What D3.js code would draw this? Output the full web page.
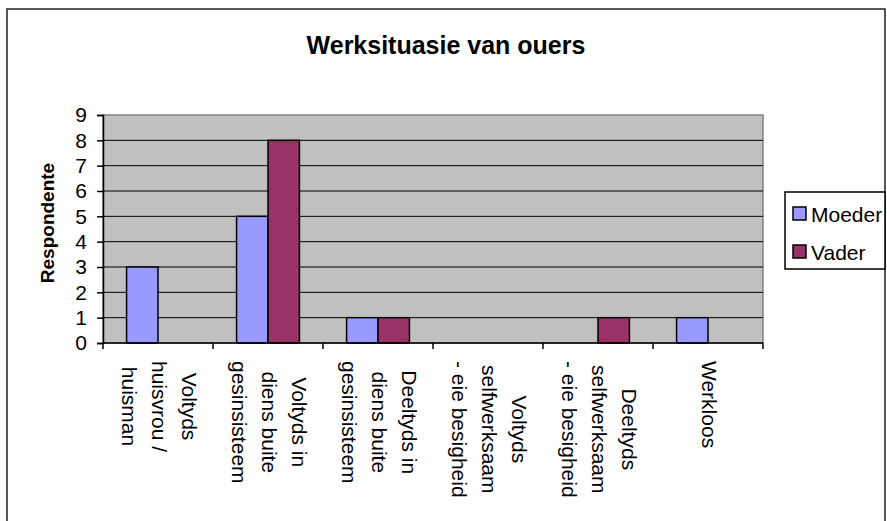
<!DOCTYPE html>
<html>
<head>
<meta charset="utf-8">
<script src="https://cdn.jsdelivr.net/npm/d3@7"></script>
<style>
  body { margin: 0; background: #fff; }
  svg { display: block; font-family: "Liberation Sans", Arial, sans-serif; }
</style>
</head>
<body>
<div id="chart"></div>
<script>
// data
var categories = [
  ["Voltyds", "huisvrou /", "huisman"],
  ["Voltyds in", "diens buite", "gesinsisteem"],
  ["Deeltyds in", "diens buite", "gesinsisteem"],
  ["Voltyds", "selfwerksaam", "- eie besigheid"],
  ["Deeltyds", "selfwerksaam", "- eie besigheid"],
  ["Werkloos"]
];
var seriesNames = ["Moeder", "Vader"];
var moeder = [3, 5, 1, 0, 0, 1];
var vader = [0, 8, 1, 0, 1, 0];
var yTicks = [0, 1, 2, 3, 4, 5, 6, 7, 8, 9];
var colors = ["#9999ff", "#993366"];

var width = 887, height = 521;
var plot = {left: 103, right: 763, top: 115, bottom: 343};

var svg = d3.select("#chart").append("svg")
    .attr("width", width)
    .attr("height", height);

// outer chart border
svg.append("rect")
    .attr("x", 7).attr("y", 9)
    .attr("width", 878).attr("height", 530)
    .attr("fill", "#fff")
    .attr("stroke", "#222")
    .attr("stroke-width", 1.5);

svg.append("text")
    .attr("x", 446).attr("y", 54)
    .attr("text-anchor", "middle")
    .style("font-size", "25px")
    .style("font-weight", "bold")
    .text("Werksituasie van ouers");

var idx = categories.map(function(d, i) { return i; });

var x = d3.scaleBand().domain(idx).range([plot.left, plot.right]);
var x1 = d3.scaleBand().domain(seriesNames).range([0, x.bandwidth()]).paddingOuter(0.75);
var y = d3.scaleLinear().domain([0, 9]).range([plot.bottom, plot.top]);

// plot background
svg.append("rect")
    .attr("x", plot.left).attr("y", plot.top)
    .attr("width", plot.right - plot.left)
    .attr("height", plot.bottom - plot.top)
    .attr("fill", "#c0c0c0")
    .attr("stroke", "#808080")
    .attr("stroke-width", 1.5);

// gridlines
svg.append("g").selectAll("line")
    .data(yTicks.slice(1, 9))
    .enter().append("line")
    .attr("x1", plot.left).attr("x2", plot.right)
    .attr("y1", function(d) { return y(d); })
    .attr("y2", function(d) { return y(d); })
    .attr("stroke", "#000")
    .attr("stroke-width", 1);

// bars
var rows = idx.map(function(i) {
  return [{s: 0, v: moeder[i]}, {s: 1, v: vader[i]}];
});
svg.append("g").selectAll("g")
    .data(rows)
    .enter().append("g")
    .attr("transform", function(d, i) { return "translate(" + x(i) + ",0)"; })
  .selectAll("rect")
    .data(function(d) { return d.filter(function(b) { return b.v > 0; }); })
    .enter().append("rect")
    .attr("x", function(d) { return x1(seriesNames[d.s]); })
    .attr("width", x1.bandwidth())
    .attr("y", function(d) { return y(d.v); })
    .attr("height", function(d) { return y(0) - y(d.v); })
    .attr("fill", function(d) { return colors[d.s]; })
    .attr("stroke", "#000")
    .attr("stroke-width", 1.5);

// y axis
var yAxis = svg.append("g")
    .attr("transform", "translate(" + plot.left + ",0)")
    .call(d3.axisLeft(y).tickValues(yTicks).tickSize(6).tickPadding(10).tickFormat(d3.format("d")));
yAxis.select(".domain").attr("stroke", "#000").attr("stroke-width", 1.5);
yAxis.selectAll(".tick line").attr("stroke", "#000").attr("stroke-width", 1.5);
yAxis.selectAll(".tick text")
    .style("font-size", "21px")
    .style("font-family", "'Liberation Sans', Arial, sans-serif")
    .attr("fill", "#000");

// x axis line and ticks at category boundaries
var bounds = idx.map(function(i) { return x(i); }).concat([plot.right]);
svg.append("line")
    .attr("x1", plot.left).attr("x2", plot.right)
    .attr("y1", plot.bottom).attr("y2", plot.bottom)
    .attr("stroke", "#000").attr("stroke-width", 1.5);
svg.append("g").selectAll("line")
    .data(bounds)
    .enter().append("line")
    .attr("x1", function(d) { return d; }).attr("x2", function(d) { return d; })
    .attr("y1", plot.bottom).attr("y2", plot.bottom + 6)
    .attr("stroke", "#000").attr("stroke-width", 1.5);

// x labels, rotated 90deg, multi-line
var lh = 30;
var labelG = svg.append("g").selectAll("g")
    .data(categories)
    .enter().append("g");
labelG.each(function(lines, i) {
  var g = d3.select(this);
  var cx = x(i) + x.bandwidth() / 2 + 1;
  var ts = g.selectAll("text").data(lines).enter().append("text")
      .style("font-size", "21px")
      .attr("text-anchor", "middle")
      .attr("dominant-baseline", "central")
      .text(function(d) { return d; });
  var maxLen = d3.max(ts.nodes(), function(n) { return n.getComputedTextLength(); });
  ts.attr("x", maxLen / 2)
    .attr("y", function(d, j) { return (j - (lines.length - 1) / 2) * lh; });
  g.attr("transform", "translate(" + cx + ",361) rotate(90)");
});

// y axis title
svg.append("text")
    .attr("transform", "translate(47,223) rotate(-90)")
    .attr("text-anchor", "middle")
    .attr("dominant-baseline", "central")
    .style("font-size", "19px")
    .style("font-weight", "bold")
    .text("Respondente");

// legend
var legend = svg.append("g");
legend.append("rect")
    .attr("x", 785).attr("y", 192)
    .attr("width", 100).attr("height", 77)
    .attr("fill", "#fff")
    .attr("stroke", "#000")
    .attr("stroke-width", 1.5);
var item = legend.selectAll("g.item")
    .data(seriesNames)
    .enter().append("g")
    .attr("class", "item")
    .attr("transform", function(d, i) { return "translate(793," + (207 + i * 38) + ")"; });
item.append("rect")
    .attr("width", 13).attr("height", 13)
    .attr("fill", function(d, i) { return colors[i]; })
    .attr("stroke", "#000")
    .attr("stroke-width", 1.5);
item.append("text")
    .attr("x", 18).attr("y", 7)
    .attr("dominant-baseline", "central")
    .style("font-size", "21px")
    .text(function(d) { return d; });
</script>
</body>
</html>
